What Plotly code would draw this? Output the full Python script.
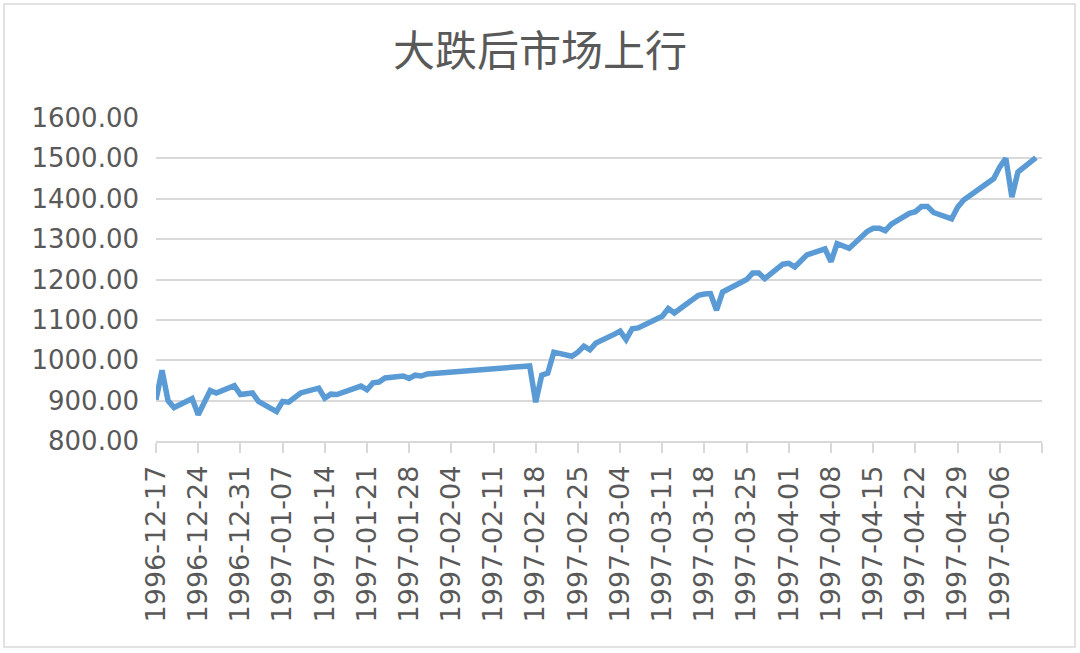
import plotly.graph_objects as go
import pandas as pd

# 上证指数 收盘价
dates = [
    "1996-12-17", "1996-12-18", "1996-12-19", "1996-12-20", "1996-12-23",
    "1996-12-24", "1996-12-26", "1996-12-27", "1996-12-30", "1996-12-31",
    "1997-01-02", "1997-01-03", "1997-01-06", "1997-01-07", "1997-01-08",
    "1997-01-10", "1997-01-13", "1997-01-14", "1997-01-15", "1997-01-16",
    "1997-01-20", "1997-01-21", "1997-01-22", "1997-01-23", "1997-01-24",
    "1997-01-27", "1997-01-28", "1997-01-29", "1997-01-30", "1997-01-31",
    "1997-02-17", "1997-02-18", "1997-02-19", "1997-02-20", "1997-02-21",
    "1997-02-24", "1997-02-25", "1997-02-26", "1997-02-27", "1997-02-28",
    "1997-03-03", "1997-03-04", "1997-03-05", "1997-03-06", "1997-03-07",
    "1997-03-10", "1997-03-11", "1997-03-12", "1997-03-13", "1997-03-14",
    "1997-03-17", "1997-03-18", "1997-03-19", "1997-03-20", "1997-03-21",
    "1997-03-25", "1997-03-26", "1997-03-27", "1997-03-28",
    "1997-03-31", "1997-04-01", "1997-04-02", "1997-04-04",
    "1997-04-07", "1997-04-08", "1997-04-09", "1997-04-11",
    "1997-04-14", "1997-04-15", "1997-04-16", "1997-04-17", "1997-04-18",
    "1997-04-21", "1997-04-22", "1997-04-23", "1997-04-24", "1997-04-25",
    "1997-04-28", "1997-04-29", "1997-04-30",
    "1997-05-05", "1997-05-06", "1997-05-07", "1997-05-08", "1997-05-09",
    "1997-05-12",
]
close = [
    902, 975, 900, 883, 905,
    865, 925, 919, 937, 915,
    919, 898, 873, 898, 896,
    919, 931, 906, 916, 915,
    936, 927, 944, 946, 956,
    961, 955, 963, 961, 966,
    986, 896, 963, 968, 1020,
    1010, 1020, 1035, 1026, 1043,
    1064, 1072, 1051, 1078, 1080,
    1101, 1109, 1128, 1117, 1128,
    1161, 1164, 1165, 1124, 1169,
    1200, 1216, 1216, 1202,
    1238, 1240, 1231, 1261,
    1276, 1244, 1289, 1277,
    1319, 1327, 1327, 1321, 1337,
    1364, 1368, 1381, 1381, 1366,
    1350, 1379, 1397,
    1450, 1479, 1500, 1404, 1466,
    1502,
]
# 周刻度（最后一个刻度不带标签）
tick_dates = pd.date_range("1996-12-17", "1997-05-13", freq="7D")
tick_labels = [d.strftime("%Y-%m-%d") for d in tick_dates[:-1]] + [""]

fig = go.Figure()
fig.add_trace(go.Scatter(
    x=pd.to_datetime(dates),
    y=close,
    mode="lines",
    line=dict(color="#5B9BD5", width=5.5),
    showlegend=False,
))

grey_text = "#595959"

fig.update_layout(
    width=1080, height=653,
    paper_bgcolor="white",
    plot_bgcolor="white",
    margin=dict(l=156, r=38, t=118, b=212),
    title=dict(
        text="大跌后市场上行",
        x=0.5, xanchor="center",
        y=1 - 51 / 653, yanchor="middle",
        font=dict(family="Noto Sans CJK SC", size=42, color=grey_text),
    ),
    xaxis=dict(
        type="date",
        range=["1996-12-17", "1997-05-13"],
        tickvals=tick_dates,
        ticktext=tick_labels,
        tickangle=-90,
        tickfont=dict(family="DejaVu Sans", size=27, color=grey_text),
        showgrid=False,
        showline=True, linecolor="#d9d9d9", linewidth=1.5,
        ticks="outside", ticklen=10, tickcolor="#d9d9d9", tickwidth=1.5,
        ticklabelstandoff=2,
    ),
    yaxis=dict(
        range=[800, 1600],
        dtick=100,
        tickformat=".2f",
        tickfont=dict(family="DejaVu Sans", size=26, color=grey_text),
        showgrid=True, gridcolor="#d9d9d9", gridwidth=1.5,
        zeroline=False, showline=False,
        ticks="", ticklabelstandoff=16,
    ),
)

# 外框
fig.add_shape(
    type="rect", xref="paper", yref="paper",
    x0=(4 - 156) / 886, x1=(1075 - 156) / 886,
    y0=(441 - 647) / 323, y1=(441 - 4) / 323,
    line=dict(color="#d9d9d9", width=1.5),
    fillcolor="rgba(0,0,0,0)", layer="below",
)

# 去掉页面默认边距，隐藏工具栏
fig.write_html(
    "out.html",
    config={"displayModeBar": False},
    post_script="document.body.style.margin='0';",
)
